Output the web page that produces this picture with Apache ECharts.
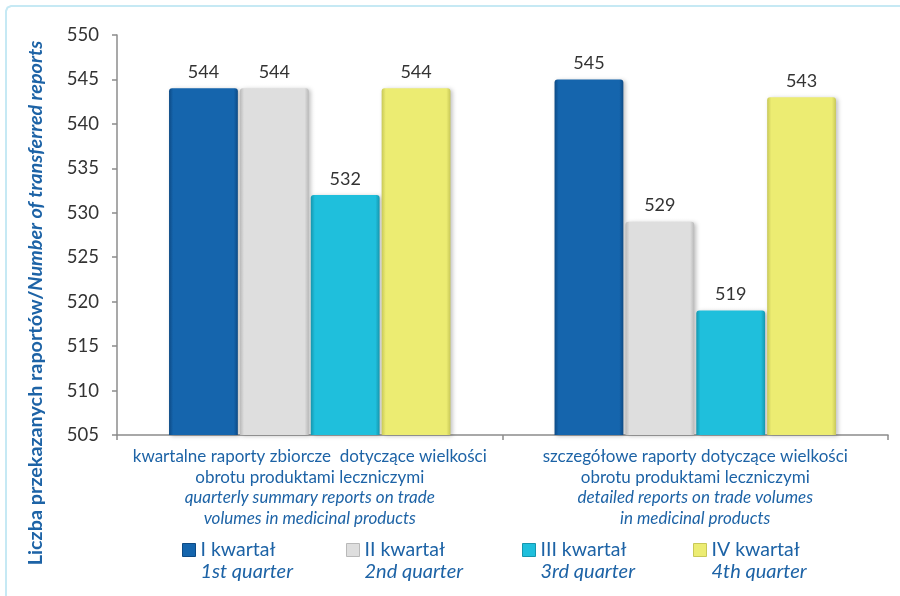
<!DOCTYPE html>
<html>
<head>
<meta charset="utf-8">
<script src="https://cdn.jsdelivr.net/npm/echarts@6/dist/echarts.min.js"></script>
<style>
  html, body { margin: 0; padding: 0; background: #ffffff; }
  #chart { width: 900px; height: 596px; }
</style>
</head>
<body>
<div id="chart"></div>
<script>
// Report types (Polish line + English line)
const categoriesPl = [
  'kwartalne raporty zbiorcze  dotyczące wielkości\nobrotu produktami leczniczymi',
  'szczegółowe raporty dotyczące wielkości\nobrotu produktami leczniczymi'
];
const categoriesEn = [
  'quarterly summary reports on trade\nvolumes in medicinal products',
  'detailed reports on trade volumes\nin medicinal products'
];

// Quarters
const quarterNamesPl = ['I kwartał', 'II kwartał', 'III kwartał', 'IV kwartał'];
const quarterNamesEn = ['1st quarter', '2nd quarter', '3rd quarter', '4th quarter'];

// Number of transferred reports per quarter
const q1Values = [544, 545];
const q2Values = [544, 529];
const q3Values = [532, 519];
const q4Values = [544, 543];

// Value axis ticks
const yMin = 505;
const yMax = 550;
const yStep = 5;

const seriesValues = [q1Values, q2Values, q3Values, q4Values];
const baseColors = ['#1565ad', '#dedede', '#1fbfdc', '#ecec72'];
const edgeColors = ['#0d4a85', '#b9b9b9', '#1596ae', '#c8c858'];
const legendLeft = [182, 346, 522, 693];

const FONT = 'Lato, "Open Sans", sans-serif';
const BLUE = '#1d63a6';

function barFill(i) {
  return new echarts.graphic.LinearGradient(0, 0, 1, 0, [
    { offset: 0, color: edgeColors[i] },
    { offset: 0.06, color: baseColors[i] },
    { offset: 0.5, color: baseColors[i] },
    { offset: 0.94, color: baseColors[i] },
    { offset: 1, color: edgeColors[i] }
  ]);
}

const chart = echarts.init(document.getElementById('chart'), null, { renderer: 'canvas' });

const series = seriesValues.map((vals, i) => ({
  name: quarterNamesPl[i],
  type: 'bar',
  data: vals,
  barGap: '3%',
  barCategoryGap: '27%',
  itemStyle: {
    color: barFill(i),
    borderRadius: [3, 3, 0, 0],
    shadowColor: 'rgba(0,0,0,0.25)',
    shadowBlur: 4,
    shadowOffsetX: 2,
    shadowOffsetY: 1
  },
  label: {
    show: true,
    position: 'top',
    distance: 7,
    color: '#333333',
    fontFamily: FONT,
    fontSize: 18
  }
}));

const legends = quarterNamesPl.map((name, i) => ({
  data: [{ name: name, icon: 'rect', itemStyle: { color: barFill(i), borderColor: edgeColors[i], borderWidth: 1 } }],
  left: legendLeft[i],
  top: 518,
  padding: 0,
  itemWidth: 13,
  itemHeight: 13,
  itemGap: 0,
  selectedMode: false,
  formatter: function (n) {
    return '{e| }\n{a|' + n + '}\n{b|' + quarterNamesEn[quarterNamesPl.indexOf(n)] + '}';
  },
  textStyle: {
    rich: {
      e: { fontSize: 19.5, lineHeight: 22, fontFamily: FONT },
      a: { fontSize: 19.5, lineHeight: 22, color: BLUE, fontFamily: FONT },
      b: { fontSize: 20, lineHeight: 22, color: BLUE, fontFamily: FONT, fontStyle: 'italic' }
    }
  }
}));

chart.setOption({
  animation: false,
  backgroundColor: '#ffffff',
  grid: { left: 117, right: 12, top: 35, bottom: 161, containLabel: false },
  legend: legends,
  xAxis: {
    type: 'category',
    data: categoriesPl,
    axisLine: { lineStyle: { color: '#8c8c8c', width: 1.5 } },
    axisTick: { show: true, length: 5, lineStyle: { color: '#8c8c8c', width: 1.5 } },
    axisLabel: {
      margin: 11,
      interval: 0,
      formatter: function (v, idx) {
        const pl = v.split('\n').map(s => '{p|' + s + '}').join('\n');
        const en = categoriesEn[idx].split('\n').map(s => '{i|' + s + '}').join('\n');
        return pl + '\n' + en;
      },
      rich: {
        p: { fontSize: 17, lineHeight: 20.7, color: BLUE, fontFamily: FONT },
        i: { fontSize: 17, lineHeight: 20.7, color: BLUE, fontFamily: FONT, fontStyle: 'italic' }
      }
    }
  },
  yAxis: {
    type: 'value',
    min: yMin,
    max: yMax,
    interval: yStep,
    splitLine: { show: false },
    axisLine: { show: true, lineStyle: { color: '#8c8c8c', width: 1.5 } },
    axisTick: { show: true, length: 5, lineStyle: { color: '#8c8c8c', width: 1.5 } },
    axisLabel: { margin: 18, color: '#333333', fontFamily: FONT, fontSize: 18.5 }
  },
  graphic: [
    {
      // light frame along the top and left edges
      type: 'polyline',
      shape: { points: [[6, 700], [6, 11], [7.5, 7.5], [11, 6], [1000, 6]] },
      style: { fill: 'none', stroke: '#c6e9f4', lineWidth: 2 },
      silent: true
    },
    {
      type: 'text',
      x: 36,
      y: 303,
      rotation: Math.PI / 2,
      style: {
        text: '{n|Liczba przekazanych raportów/}{e|Number of transferred reports}',
        align: 'center',
        verticalAlign: 'middle',
        rich: {
          n: { fontSize: 19.8, fontWeight: 'bold', fill: BLUE, fontFamily: FONT },
          e: { fontSize: 19.8, fontWeight: 'bold', fontStyle: 'italic', fill: BLUE, fontFamily: FONT }
        }
      },
      silent: true
    }
  ],
  series: series
});
</script>
</body>
</html>
